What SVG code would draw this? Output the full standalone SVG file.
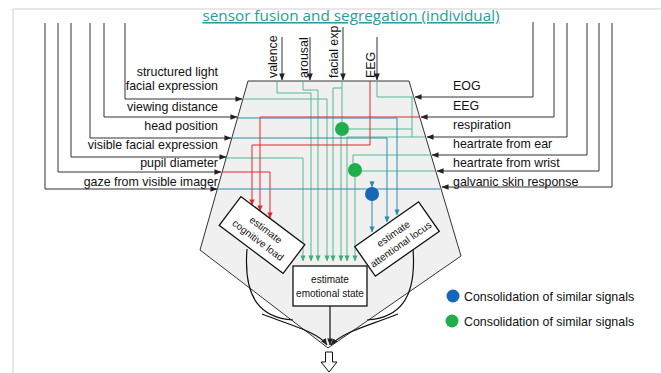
<svg xmlns="http://www.w3.org/2000/svg" width="661" height="373" viewBox="0 0 661 373">
  <defs>
    <marker id="arrK" viewBox="0 0 8 8" refX="7.5" refY="4" markerWidth="7" markerHeight="7" markerUnits="userSpaceOnUse" orient="auto">
      <path d="M0,0.8 L8,4 L0,7.2 Z" fill="#222"/>
    </marker>
    <marker id="arrG" viewBox="0 0 8 8" refX="7.5" refY="4" markerWidth="6" markerHeight="6" markerUnits="userSpaceOnUse" orient="auto">
      <path d="M0,0.5 L8,4 L0,7.5 Z" fill="#3fae7c"/>
    </marker>
    <marker id="arrT" viewBox="0 0 8 8" refX="7.5" refY="4" markerWidth="6" markerHeight="6" markerUnits="userSpaceOnUse" orient="auto">
      <path d="M0,0.5 L8,4 L0,7.5 Z" fill="#2a8ca6"/>
    </marker>
    <marker id="arrR" viewBox="0 0 8 8" refX="7.5" refY="4" markerWidth="6" markerHeight="6" markerUnits="userSpaceOnUse" orient="auto">
      <path d="M0,0.5 L8,4 L0,7.5 Z" fill="#e3262a"/>
    </marker>
  </defs>
  <style>
    text { font-family: "Liberation Sans", Arial, sans-serif; fill: #111; }
    .lbl { font-size: 12.4px; }
    .box-t { font-size: 10px; text-anchor: middle; }
    .in { fill: none; stroke: #333; stroke-width: 1; }
    .g { fill: none; stroke: #55b98e; stroke-width: 1; }
    .t { fill: none; stroke: #2a8ca6; stroke-width: 1; }
    .r { fill: none; stroke: #e3262a; stroke-width: 1; }
    .k { fill: none; stroke: #111; stroke-width: 1.2; }
    .box { fill: #fff; stroke: #111; stroke-width: 1.3; }
  </style>

  <rect width="661" height="373" fill="#fff"/>
  <!-- page frame -->
  <path d="M13,373 V9 H661" fill="none" stroke="#cfcfcf" stroke-width="1"/>

  <!-- title -->
  <text x="351" y="21" text-anchor="middle" style="font-family:'Open Sans','Noto Sans',sans-serif;font-size:15.3px;fill:#2a9aa0;text-decoration:underline">sensor fusion and segregation (individual)</text>

  <!-- funnel body -->
  <polygon id="funnel" points="248,81 409,81 461,256 328,348 200,250" fill="#f0f0f0" stroke="#333" stroke-width="1"/>

  <!-- internal signal routing -->
  <g id="connectors">
    <!-- green: emotional cues -->
    <path class="g" d="M277,81 V93 H311 V261" marker-end="url(#arrG)"/>
    <path class="g" d="M303,81 V90 H318 V261" marker-end="url(#arrG)"/>
    <path class="g" d="M342,81 V88 H333 V261" marker-end="url(#arrG)"/>
    <path class="g" d="M342,88 V122"/>
    <path class="g" d="M243,99 H327 V261" marker-end="url(#arrG)"/>
    <path class="g" d="M226,158 H303 V261" marker-end="url(#arrG)"/>
    <path class="g" d="M377,81 V97 H414"/>
    <path class="g" d="M412,97 V137"/>
    <path class="g" d="M412,129 H349"/>
    <path class="g" d="M425,137 H347 V261" marker-end="url(#arrG)"/>
    <path class="g" d="M341,136 V261" marker-end="url(#arrG)"/>
    <path class="g" d="M431,155 H353 V163"/>
    <path class="g" d="M435,171 H361"/>
    <path class="g" d="M355,177 V261" marker-end="url(#arrG)"/>
    <!-- red: cognitive load cues -->
    <path class="r" d="M370,81 V145 H252 V205" marker-end="url(#arrR)"/>
    <path class="r" d="M420,117 H260 V211" marker-end="url(#arrR)"/>
    <path class="r" d="M222,172 H270 V218" marker-end="url(#arrR)"/>
    <!-- teal: attention cues -->
    <path class="t" d="M238,118 H397 V215" marker-end="url(#arrT)"/>
    <path class="t" d="M232,138 H387 V222" marker-end="url(#arrT)"/>
    <path class="t" d="M217,189 H440"/>
    <path class="t" d="M372,181 V187" marker-end="url(#arrT)"/>
    <path class="t" d="M372,200 V232" marker-end="url(#arrT)"/>

    <!-- outputs converging at the funnel tip -->
    <path class="k" d="M247,249 C243,300 262,318 293,320"/>
    <path class="k" d="M262,314 C292,326 318,332 327,345" marker-end="url(#arrK)"/>
    <path class="k" d="M413,249 C417,300 398,318 367,320"/>
    <path class="k" d="M398,314 C368,326 342,332 331,345" marker-end="url(#arrK)"/>
    <path class="k" d="M330,306 V345" marker-end="url(#arrK)"/>
  </g>

  <!-- consolidation points -->
  <circle id="dot-face" cx="342" cy="129" r="7" fill="#1fae4b"/>
  <circle id="dot-heart" cx="355" cy="170" r="7" fill="#1fae4b"/>
  <circle id="dot-gaze" cx="372" cy="194" r="7" fill="#1767b8"/>

  <!-- estimator nodes -->
  <g id="cognitive-load" transform="translate(262,235) rotate(37)">
    <rect class="box" x="-40" y="-18" width="80" height="36"/>
    <text class="box-t" x="0" y="-3">estimate</text>
    <text class="box-t" x="0" y="10">cognitive load</text>
  </g>
  <g id="emotional-state">
    <rect class="box" x="293" y="266" width="74" height="40"/>
    <text class="box-t" x="330" y="283">estimate</text>
    <text class="box-t" x="330" y="297">emotional state</text>
  </g>
  <g id="attentional-locus" transform="translate(397,239) rotate(-35)">
    <rect class="box" x="-39" y="-18" width="78" height="36"/>
    <text class="box-t" x="0" y="-3">estimate</text>
    <text class="box-t" x="0" y="10">attentional locus</text>
  </g>

  <!-- output arrow -->
  <polygon id="output" points="325.5,352 332.5,352 332.5,362 337,362 329,372 321,362 325.5,362" fill="#fff" stroke="#111" stroke-width="1"/>

  <!-- top inputs -->
  <g id="top-inputs">
    <path class="in" d="M282,37 V80" marker-end="url(#arrK)"/>
    <path class="in" d="M310,37 V80" marker-end="url(#arrK)"/>
    <path class="in" d="M343,27 V80" marker-end="url(#arrK)"/>
    <path class="in" d="M377,37 V80" marker-end="url(#arrK)"/>
    <text class="lbl" transform="translate(277,78) rotate(-90)">valence</text>
    <text class="lbl" transform="translate(308,78) rotate(-90)">arousal</text>
    <text class="lbl" transform="translate(338,78) rotate(-90)">facial exp</text>
    <text class="lbl" transform="translate(375,78) rotate(-90)">EEG</text>
  </g>

  <!-- left sensor inputs -->
  <g id="left-inputs">
    <path class="in" d="M125,23 V99 H242" marker-end="url(#arrK)"/>
    <path class="in" d="M104,23 V117 H237" marker-end="url(#arrK)"/>
    <path class="in" d="M90,23 V138 H231" marker-end="url(#arrK)"/>
    <path class="in" d="M71,23 V157 H226" marker-end="url(#arrK)"/>
    <path class="in" d="M58,23 V172 H221" marker-end="url(#arrK)"/>
    <path class="in" d="M45,23 V189 H217" marker-end="url(#arrK)"/>
    <g text-anchor="end">
      <text class="lbl" x="218" y="76">structured light</text>
      <text class="lbl" x="218" y="90">facial expression</text>
      <text class="lbl" x="218" y="111">viewing distance</text>
      <text class="lbl" x="218" y="130">head position</text>
      <text class="lbl" x="218" y="149">visible facial expression</text>
      <text class="lbl" x="218" y="167">pupil diameter</text>
      <text class="lbl" x="218" y="186">gaze from visible imager</text>
    </g>
  </g>

  <!-- right sensor inputs -->
  <g id="right-inputs">
    <path class="in" d="M533,22 V97 H415" marker-end="url(#arrK)"/>
    <path class="in" d="M554,23 V117 H421" marker-end="url(#arrK)"/>
    <path class="in" d="M567,23 V137 H427" marker-end="url(#arrK)"/>
    <path class="in" d="M587,23 V155 H432" marker-end="url(#arrK)"/>
    <path class="in" d="M599,23 V171 H437" marker-end="url(#arrK)"/>
    <path class="in" d="M612,23 V187 H442" marker-end="url(#arrK)"/>
    <text class="lbl" x="453" y="90">EOG</text>
    <text class="lbl" x="453" y="110">EEG</text>
    <text class="lbl" x="453" y="129">respiration</text>
    <text class="lbl" x="453" y="148">heartrate from ear</text>
    <text class="lbl" x="453" y="167">heartrate from wrist</text>
    <text class="lbl" x="453" y="186">galvanic skin response</text>
  </g>

  <!-- legend -->
  <g id="legend">
    <circle cx="453" cy="296" r="6.5" fill="#1767b8"/>
    <text class="lbl" x="464" y="301">Consolidation of similar signals</text>
    <circle cx="452" cy="321" r="6.5" fill="#1fae4b"/>
    <text class="lbl" x="464" y="326">Consolidation of similar signals</text>
  </g>
</svg>
